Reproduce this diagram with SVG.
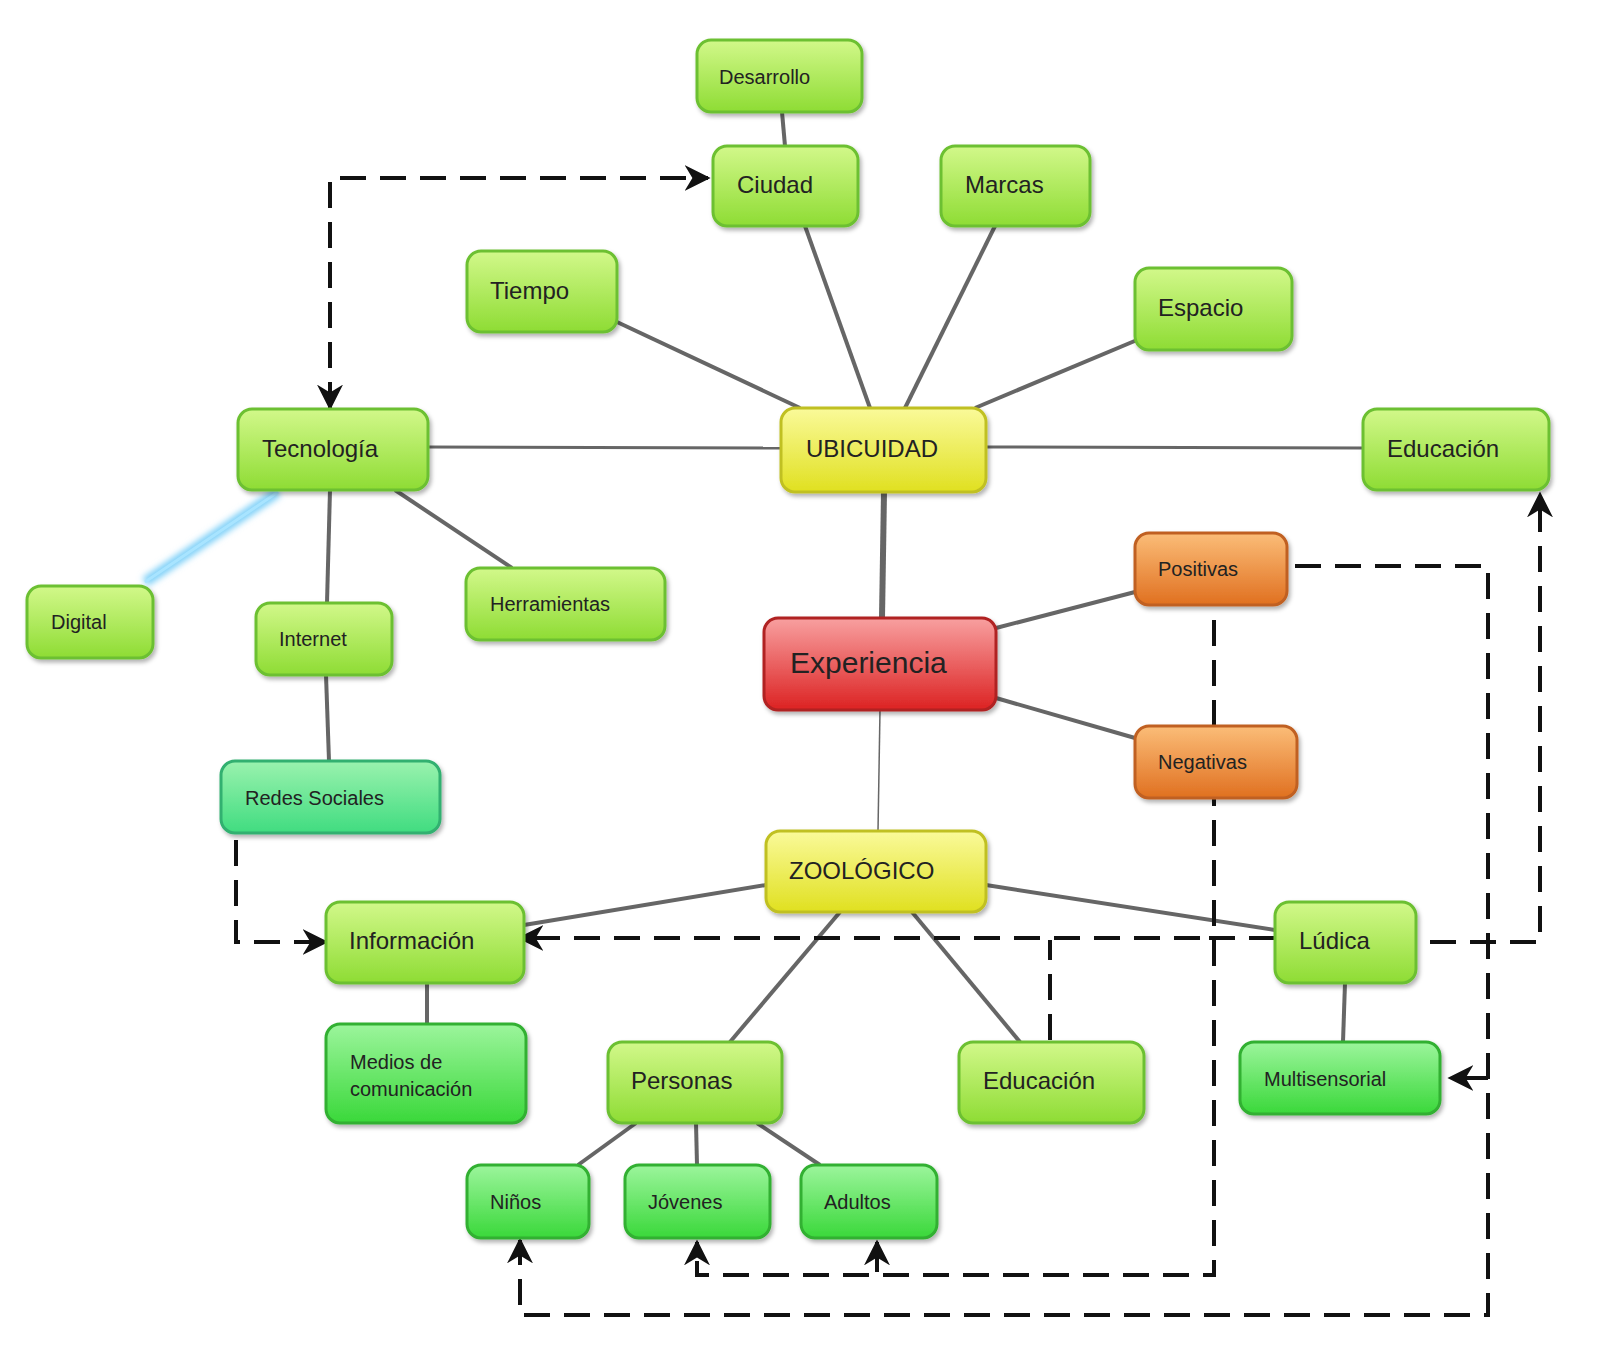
<svg xmlns="http://www.w3.org/2000/svg" width="1600" height="1346" viewBox="0 0 1600 1346">
<defs>
<linearGradient id="gl" x1="0" y1="0" x2="0" y2="1"><stop offset="0" stop-color="#d2f88a"/><stop offset="1" stop-color="#8edc34"/></linearGradient>
<linearGradient id="gd" x1="0" y1="0" x2="0" y2="1"><stop offset="0" stop-color="#9cf59c"/><stop offset="1" stop-color="#3ad83a"/></linearGradient>
<linearGradient id="gt" x1="0" y1="0" x2="0" y2="1"><stop offset="0" stop-color="#9af2ae"/><stop offset="1" stop-color="#40dc80"/></linearGradient>
<linearGradient id="gy" x1="0" y1="0" x2="0" y2="1"><stop offset="0" stop-color="#fafa9a"/><stop offset="1" stop-color="#e0e020"/></linearGradient>
<linearGradient id="gr" x1="0" y1="0" x2="0" y2="1"><stop offset="0" stop-color="#f8a0a0"/><stop offset="1" stop-color="#dc2222"/></linearGradient>
<linearGradient id="go" x1="0" y1="0" x2="0" y2="1"><stop offset="0" stop-color="#fbbd78"/><stop offset="1" stop-color="#e07020"/></linearGradient>
<marker id="ar" viewBox="0 0 20 20" refX="18" refY="10" markerWidth="26" markerHeight="26" markerUnits="userSpaceOnUse" orient="auto-start-reverse"><path d="M0,0 L20,10 L0,20 L6,10 Z" fill="#111"/></marker>
<filter id="sh" x="-10%" y="-10%" width="130%" height="140%"><feDropShadow dx="2" dy="3" stdDeviation="2" flood-color="#000" flood-opacity="0.3"/></filter>
<filter id="glow"><feGaussianBlur stdDeviation="3"/></filter>
</defs>
<style>
.n rect{stroke-width:3;filter:url(#sh)}
.l rect{fill:url(#gl);stroke:#6cc030}
.d rect{fill:url(#gd);stroke:#30b030}
.t rect{fill:url(#gt);stroke:#30b070}
.y rect{fill:url(#gy);stroke:#c0c020}
.r rect{fill:url(#gr);stroke:#b02020}
.o rect{fill:url(#go);stroke:#c06020}
text{font-family:"Liberation Sans",Arial,sans-serif;fill:#222;font-size:24px}
.s{font-size:20px}
.c line{stroke:#666;stroke-width:4}
.dash{fill:none;stroke:#111;stroke-width:4;stroke-dasharray:26 14}
</style>
<rect width="1600" height="1346" fill="#fff"/>
<g class="c">
<line x1="782" y1="112" x2="785" y2="146"/>
<line x1="805" y1="226" x2="870" y2="408"/>
<line x1="995" y1="226" x2="905" y2="408"/>
<line x1="617" y1="322" x2="800" y2="408"/>
<line x1="1137" y1="340" x2="975" y2="408"/>
<line x1="428" y1="447" x2="781" y2="448" style="stroke-width:3"/>
<line x1="986" y1="447" x2="1363" y2="448" style="stroke-width:3"/>
<line x1="884" y1="492" x2="882" y2="618" style="stroke-width:6"/>
<line x1="330" y1="490" x2="327" y2="603"/>
<line x1="395" y1="490" x2="512" y2="568"/>
<line x1="326" y1="675" x2="329" y2="761"/>
<line x1="996" y1="628" x2="1135" y2="592"/>
<line x1="996" y1="698" x2="1135" y2="738"/>
<line x1="880" y1="710" x2="878" y2="831" style="stroke-width:1.5"/>
<line x1="766" y1="885" x2="524" y2="925"/>
<line x1="986" y1="885" x2="1275" y2="930"/>
<line x1="840" y1="912" x2="730" y2="1042"/>
<line x1="912" y1="912" x2="1020" y2="1042"/>
<line x1="427" y1="983" x2="427" y2="1024"/>
<line x1="1345" y1="983" x2="1343" y2="1042"/>
<line x1="636" y1="1123" x2="578" y2="1165"/>
<line x1="696" y1="1123" x2="697" y2="1165"/>
<line x1="757" y1="1123" x2="820" y2="1165"/>
<line x1="145" y1="582" x2="278" y2="492" style="stroke:#7fd0f8;stroke-width:10;filter:url(#glow)"/>
<line x1="145" y1="582" x2="278" y2="492" style="stroke:#a8e4ff;stroke-width:3"/>
<path class="dash" d="M330,408 V178 H708" marker-start="url(#ar)" marker-end="url(#ar)"/>
<path class="dash" d="M236,840 V942 H326" marker-end="url(#ar)"/>
<path class="dash" d="M1275,938 H1200 M1200,938 H520" marker-end="url(#ar)"/>
<path class="dash" d="M1050,1040 V940"/>
<path class="dash" d="M1430,942 H1540 V494" marker-end="url(#ar)"/>
<path class="dash" d="M1295,566 H1488 V1315 H520 V1240" marker-end="url(#ar)"/>
<path class="dash" d="M1488,1078 H1450" marker-end="url(#ar)"/>
<path class="dash" d="M1214,620 V1275 H697 V1242" marker-end="url(#ar)"/>
<path class="dash" d="M877,1272 V1242" style="stroke-dasharray:none" marker-end="url(#ar)"/>
</g>
<g id="desarrollo" class="n l"><rect x="697" y="40" width="165" height="72" rx="14"/><text x="719" y="84" class="s">Desarrollo</text></g>
<g id="ciudad" class="n l"><rect x="713" y="146" width="145" height="80" rx="14"/><text x="737" y="193">Ciudad</text></g>
<g id="marcas" class="n l"><rect x="941" y="146" width="149" height="80" rx="14"/><text x="965" y="193">Marcas</text></g>
<g id="tiempo" class="n l"><rect x="467" y="251" width="150" height="81" rx="14"/><text x="490" y="299">Tiempo</text></g>
<g id="espacio" class="n l"><rect x="1135" y="268" width="157" height="82" rx="14"/><text x="1158" y="316">Espacio</text></g>
<g id="tecnologia" class="n l"><rect x="238" y="409" width="190" height="81" rx="14"/><text x="262" y="457">Tecnología</text></g>
<g id="ubicuidad" class="n y"><rect x="781" y="408" width="205" height="84" rx="14"/><text x="806" y="457">UBICUIDAD</text></g>
<g id="educacion1" class="n l"><rect x="1363" y="409" width="186" height="81" rx="14"/><text x="1387" y="457">Educación</text></g>
<g id="digital" class="n l"><rect x="27" y="586" width="126" height="72" rx="14"/><text x="51" y="629" class="s">Digital</text></g>
<g id="internet" class="n l"><rect x="256" y="603" width="136" height="72" rx="14"/><text x="279" y="646" class="s">Internet</text></g>
<g id="herramientas" class="n l"><rect x="466" y="568" width="199" height="72" rx="14"/><text x="490" y="611" class="s">Herramientas</text></g>
<g id="redes" class="n t"><rect x="221" y="761" width="219" height="72" rx="14"/><text x="245" y="805" class="s">Redes Sociales</text></g>
<g id="positivas" class="n o"><rect x="1135" y="533" width="152" height="72" rx="14"/><text x="1158" y="576" class="s">Positivas</text></g>
<g id="experiencia" class="n r"><rect x="764" y="618" width="232" height="92" rx="14"/><text x="790" y="673" style="font-size:30px">Experiencia</text></g>
<g id="negativas" class="n o"><rect x="1135" y="726" width="162" height="72" rx="14"/><text x="1158" y="769" class="s">Negativas</text></g>
<g id="zoologico" class="n y"><rect x="766" y="831" width="220" height="81" rx="14"/><text x="789" y="879">ZOOLÓGICO</text></g>
<g id="informacion" class="n l"><rect x="326" y="902" width="198" height="81" rx="14"/><text x="349" y="949">Información</text></g>
<g id="ludica" class="n l"><rect x="1275" y="902" width="141" height="81" rx="14"/><text x="1299" y="949">Lúdica</text></g>
<g id="medios" class="n d"><rect x="326" y="1024" width="200" height="99" rx="14"/><text x="350" y="1069" class="s">Medios de</text><text x="350" y="1096" class="s">comunicación</text></g>
<g id="personas" class="n l"><rect x="608" y="1042" width="174" height="81" rx="14"/><text x="631" y="1089">Personas</text></g>
<g id="educacion2" class="n l"><rect x="959" y="1042" width="185" height="81" rx="14"/><text x="983" y="1089">Educación</text></g>
<g id="multisensorial" class="n d"><rect x="1240" y="1042" width="200" height="72" rx="14"/><text x="1264" y="1086" class="s">Multisensorial</text></g>
<g id="ninos" class="n d"><rect x="467" y="1165" width="122" height="73" rx="14"/><text x="490" y="1209" class="s">Niños</text></g>
<g id="jovenes" class="n d"><rect x="625" y="1165" width="145" height="73" rx="14"/><text x="648" y="1209" class="s">Jóvenes</text></g>
<g id="adultos" class="n d"><rect x="801" y="1165" width="136" height="73" rx="14"/><text x="824" y="1209" class="s">Adultos</text></g>
</svg>
